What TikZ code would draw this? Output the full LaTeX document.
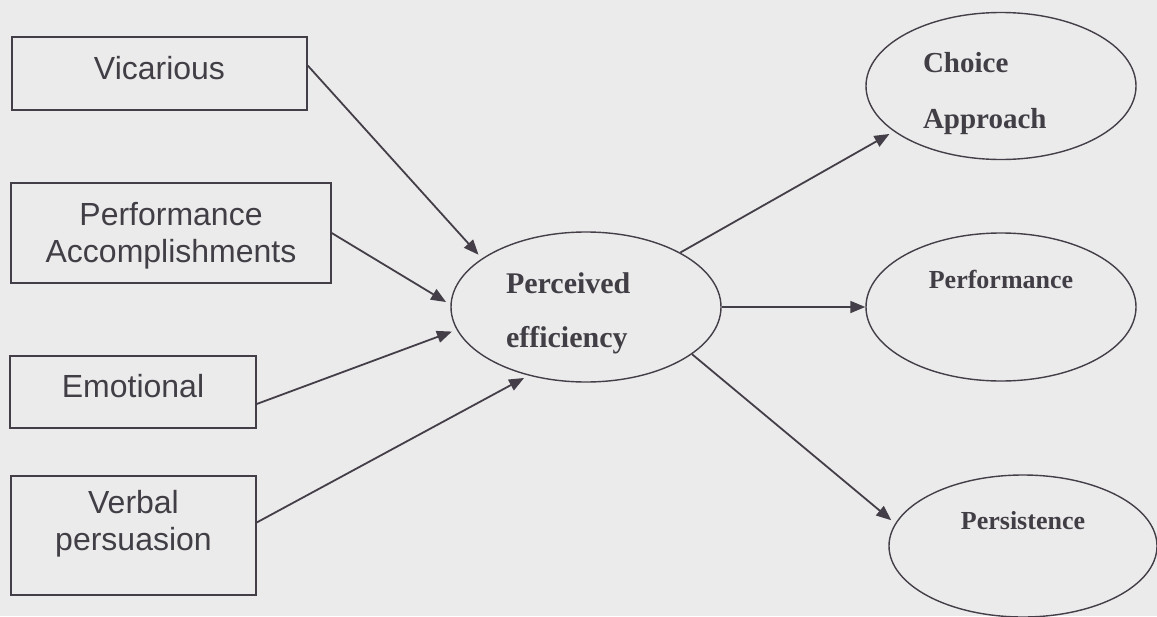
\documentclass[tikz,border=0pt]{standalone}
\usepackage{fontspec}
\setmainfont{Liberation Serif}
\setsansfont{Liberation Sans}
\usetikzlibrary{arrows.meta,shapes.geometric}
\definecolor{pgback}{RGB}{236,235,235}
\definecolor{pgline}{RGB}{68,62,72}
\definecolor{pgtext}{RGB}{66,62,70}
\tikzset{
  srcbox/.style={draw=pgline,line width=1.4pt,inner sep=0pt,align=center,text=pgtext,
    font=\sffamily\fontsize{32}{37}\selectfont},
  oval/.style={ellipse,draw=pgline,line width=1.4pt,inner sep=0pt,text=pgtext},
  link/.style={draw=pgline,line width=1.8pt,-{Triangle[length=15pt,width=12pt]},shorten >=5pt},
}

\begin{document}
\begin{tikzpicture}[x=1pt,y=-1pt]
  \fill[pgback] (0,0) rectangle (1157,616);
  \useasboundingbox (0,0) rectangle (1157,616);
  % sources
  \node[srcbox,minimum width=295pt,minimum height=73pt,text height=23pt,text depth=12pt] (vic) at (159.5,73.5) {Vicarious};
  \node[srcbox,minimum width=320pt,minimum height=100pt,text height=60pt,text depth=2pt] (acc) at (171,233) {Performance\\Accomplishments};
  \node[srcbox,minimum width=246pt,minimum height=72pt,text height=23pt,text depth=13pt] (emo) at (133,392) {Emotional};
  \node[srcbox,minimum width=245pt,minimum height=119pt,text height=60pt,text depth=31pt] (verb) at (133.5,535.5) {Verbal\\persuasion};
  % ellipses
  \node[oval,minimum width=270pt,minimum height=150pt,text width=160pt,align=left,
    text height=21pt,text depth=49pt,font=\bfseries\fontsize{30}{54}\selectfont] (eff) at (586,307) {Perceived\\efficiency};
  \node[oval,minimum width=270pt,minimum height=147pt,text width=156pt,align=left,
    text height=20pt,text depth=48pt,font=\bfseries\fontsize{29}{56}\selectfont] (choice) at (1001,86) {Choice\\Approach};
  \node[oval,minimum width=270pt,minimum height=148pt,text height=18pt,text depth=56pt,
    font=\bfseries\fontsize{26}{30}\selectfont] (perf) at (1001,307) {Performance};
  \node[oval,minimum width=268pt,minimum height=142pt,text height=18pt,text depth=52pt,
    font=\bfseries\fontsize{26}{30}\selectfont] (pers) at (1023,546) {Persistence};
  % links
  \draw[link] ([yshift=8pt]vic.east) -- (eff.155);
  \draw[link] (acc.east) -- (eff.179);
  \draw[link] ([yshift=-12pt]emo.east) -- (eff.190);
  \draw[link] ([yshift=13pt]verb.east) -- (eff.230);
  \draw[link] (eff.30) -- (choice.203);
  \draw[link,shorten >=0pt] (eff.east) -- (perf.west);
  \draw[link] (eff.-24) -- (pers.170);
\end{tikzpicture}
\end{document}
